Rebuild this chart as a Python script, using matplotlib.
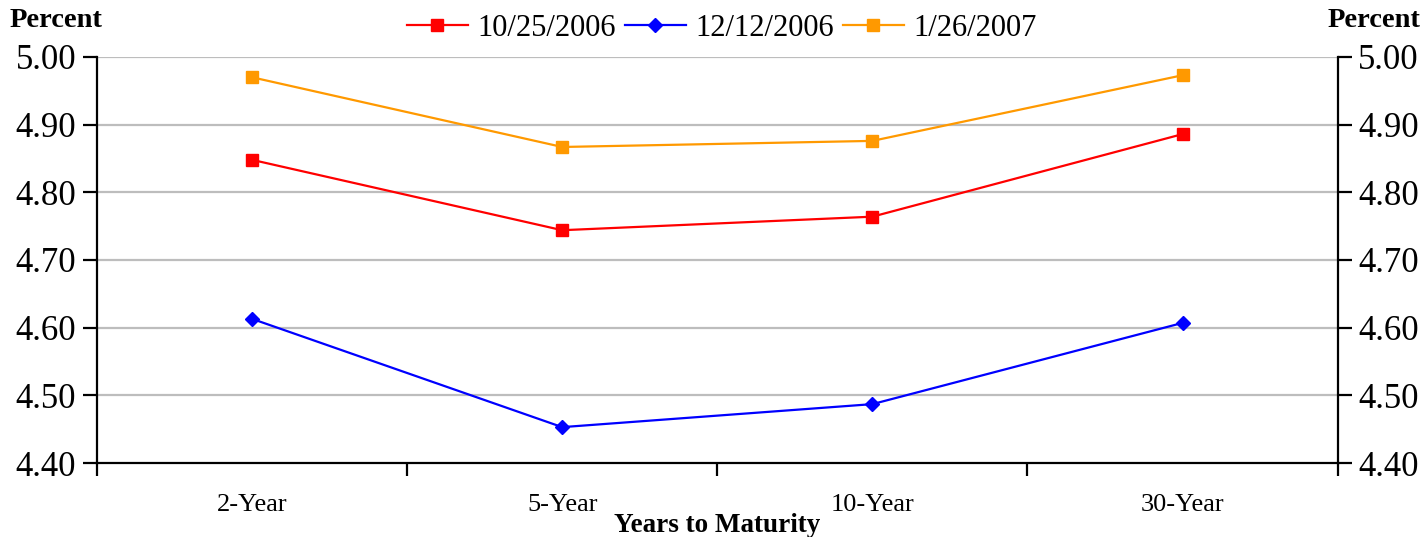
import matplotlib
matplotlib.use("Agg")
import matplotlib.pyplot as plt
from matplotlib.ticker import FixedLocator, NullFormatter, FixedFormatter

plt.rcParams['font.family'] = ['Liberation Serif', 'DejaVu Serif']

maturities = ["2-Year", "5-Year", "10-Year", "30-Year"]
series_labels = ["10/25/2006", "12/12/2006", "1/26/2007"]
yields_oct = [4.848, 4.744, 4.764, 4.886]
yields_dec = [4.613, 4.453, 4.487, 4.607]
yields_jan = [4.970, 4.867, 4.876, 4.973]
y_ticks = [4.40, 4.50, 4.60, 4.70, 4.80, 4.90, 5.00]

fig = plt.figure(figsize=(14.26, 5.37), dpi=100)
ax = fig.add_axes([0.068, 0.1378, 0.870, 0.7561])

x = list(range(len(maturities)))
styles = [
    (yields_oct, "#FF0000", "s", 8.5),
    (yields_dec, "#0000FF", "D", 7.5),
    (yields_jan, "#FF9900", "s", 8.5),
]
handles = []
for (vals, color, marker, ms), label in zip(styles, series_labels):
    h, = ax.plot(x, vals, color=color, marker=marker, markersize=ms,
                 linewidth=1.6, label=label, zorder=3)
    handles.append(h)

ax.set_xlim(-0.5, len(maturities) - 0.5)
ax.set_ylim(4.40, 5.00)

# Gridlines
for v in y_ticks[1:]:
    ax.axhline(v, color="#BDBDBD", linewidth=1.6, zorder=1)

# Spines
ax.spines['top'].set_visible(False)
for s in ['left', 'right', 'bottom']:
    ax.spines[s].set_linewidth(1.6)
    ax.spines[s].set_color('black')

# X ticks: marks at category boundaries, labels at category centers
ax.xaxis.set_major_locator(FixedLocator([i - 0.5 for i in range(len(maturities) + 1)]))
ax.xaxis.set_major_formatter(NullFormatter())
ax.xaxis.set_minor_locator(FixedLocator(x))
ax.xaxis.set_minor_formatter(FixedFormatter(maturities))
ax.tick_params(axis='x', which='major', direction='out', length=9, width=1.6)
ax.tick_params(axis='x', which='minor', length=0, labelsize=19, pad=22)

# Y ticks on both sides
ax.set_yticks(y_ticks)
ax.set_yticklabels([f"{v:.2f}" for v in y_ticks])
ax.tick_params(axis='y', direction='out', length=10, width=1.6, labelsize=25,
               left=True, right=True, labelleft=True, labelright=True, pad=5)

ax.set_xlabel("Years to Maturity", fontsize=19.5, fontweight='bold', labelpad=-2)

fig.text(0.007, 0.962, "Percent", fontsize=20.5, fontweight='bold', ha='left', va='center')
fig.text(0.996, 0.962, "Percent", fontsize=20.5, fontweight='bold', ha='right', va='center')

fig.legend(handles=handles, labels=series_labels, loc='center', ncol=3,
           bbox_to_anchor=(0.506, 0.947), frameon=False, fontsize=22,
           handlelength=2.0, handletextpad=0.3, columnspacing=0.3)

fig.savefig("out.png", dpi=100)
